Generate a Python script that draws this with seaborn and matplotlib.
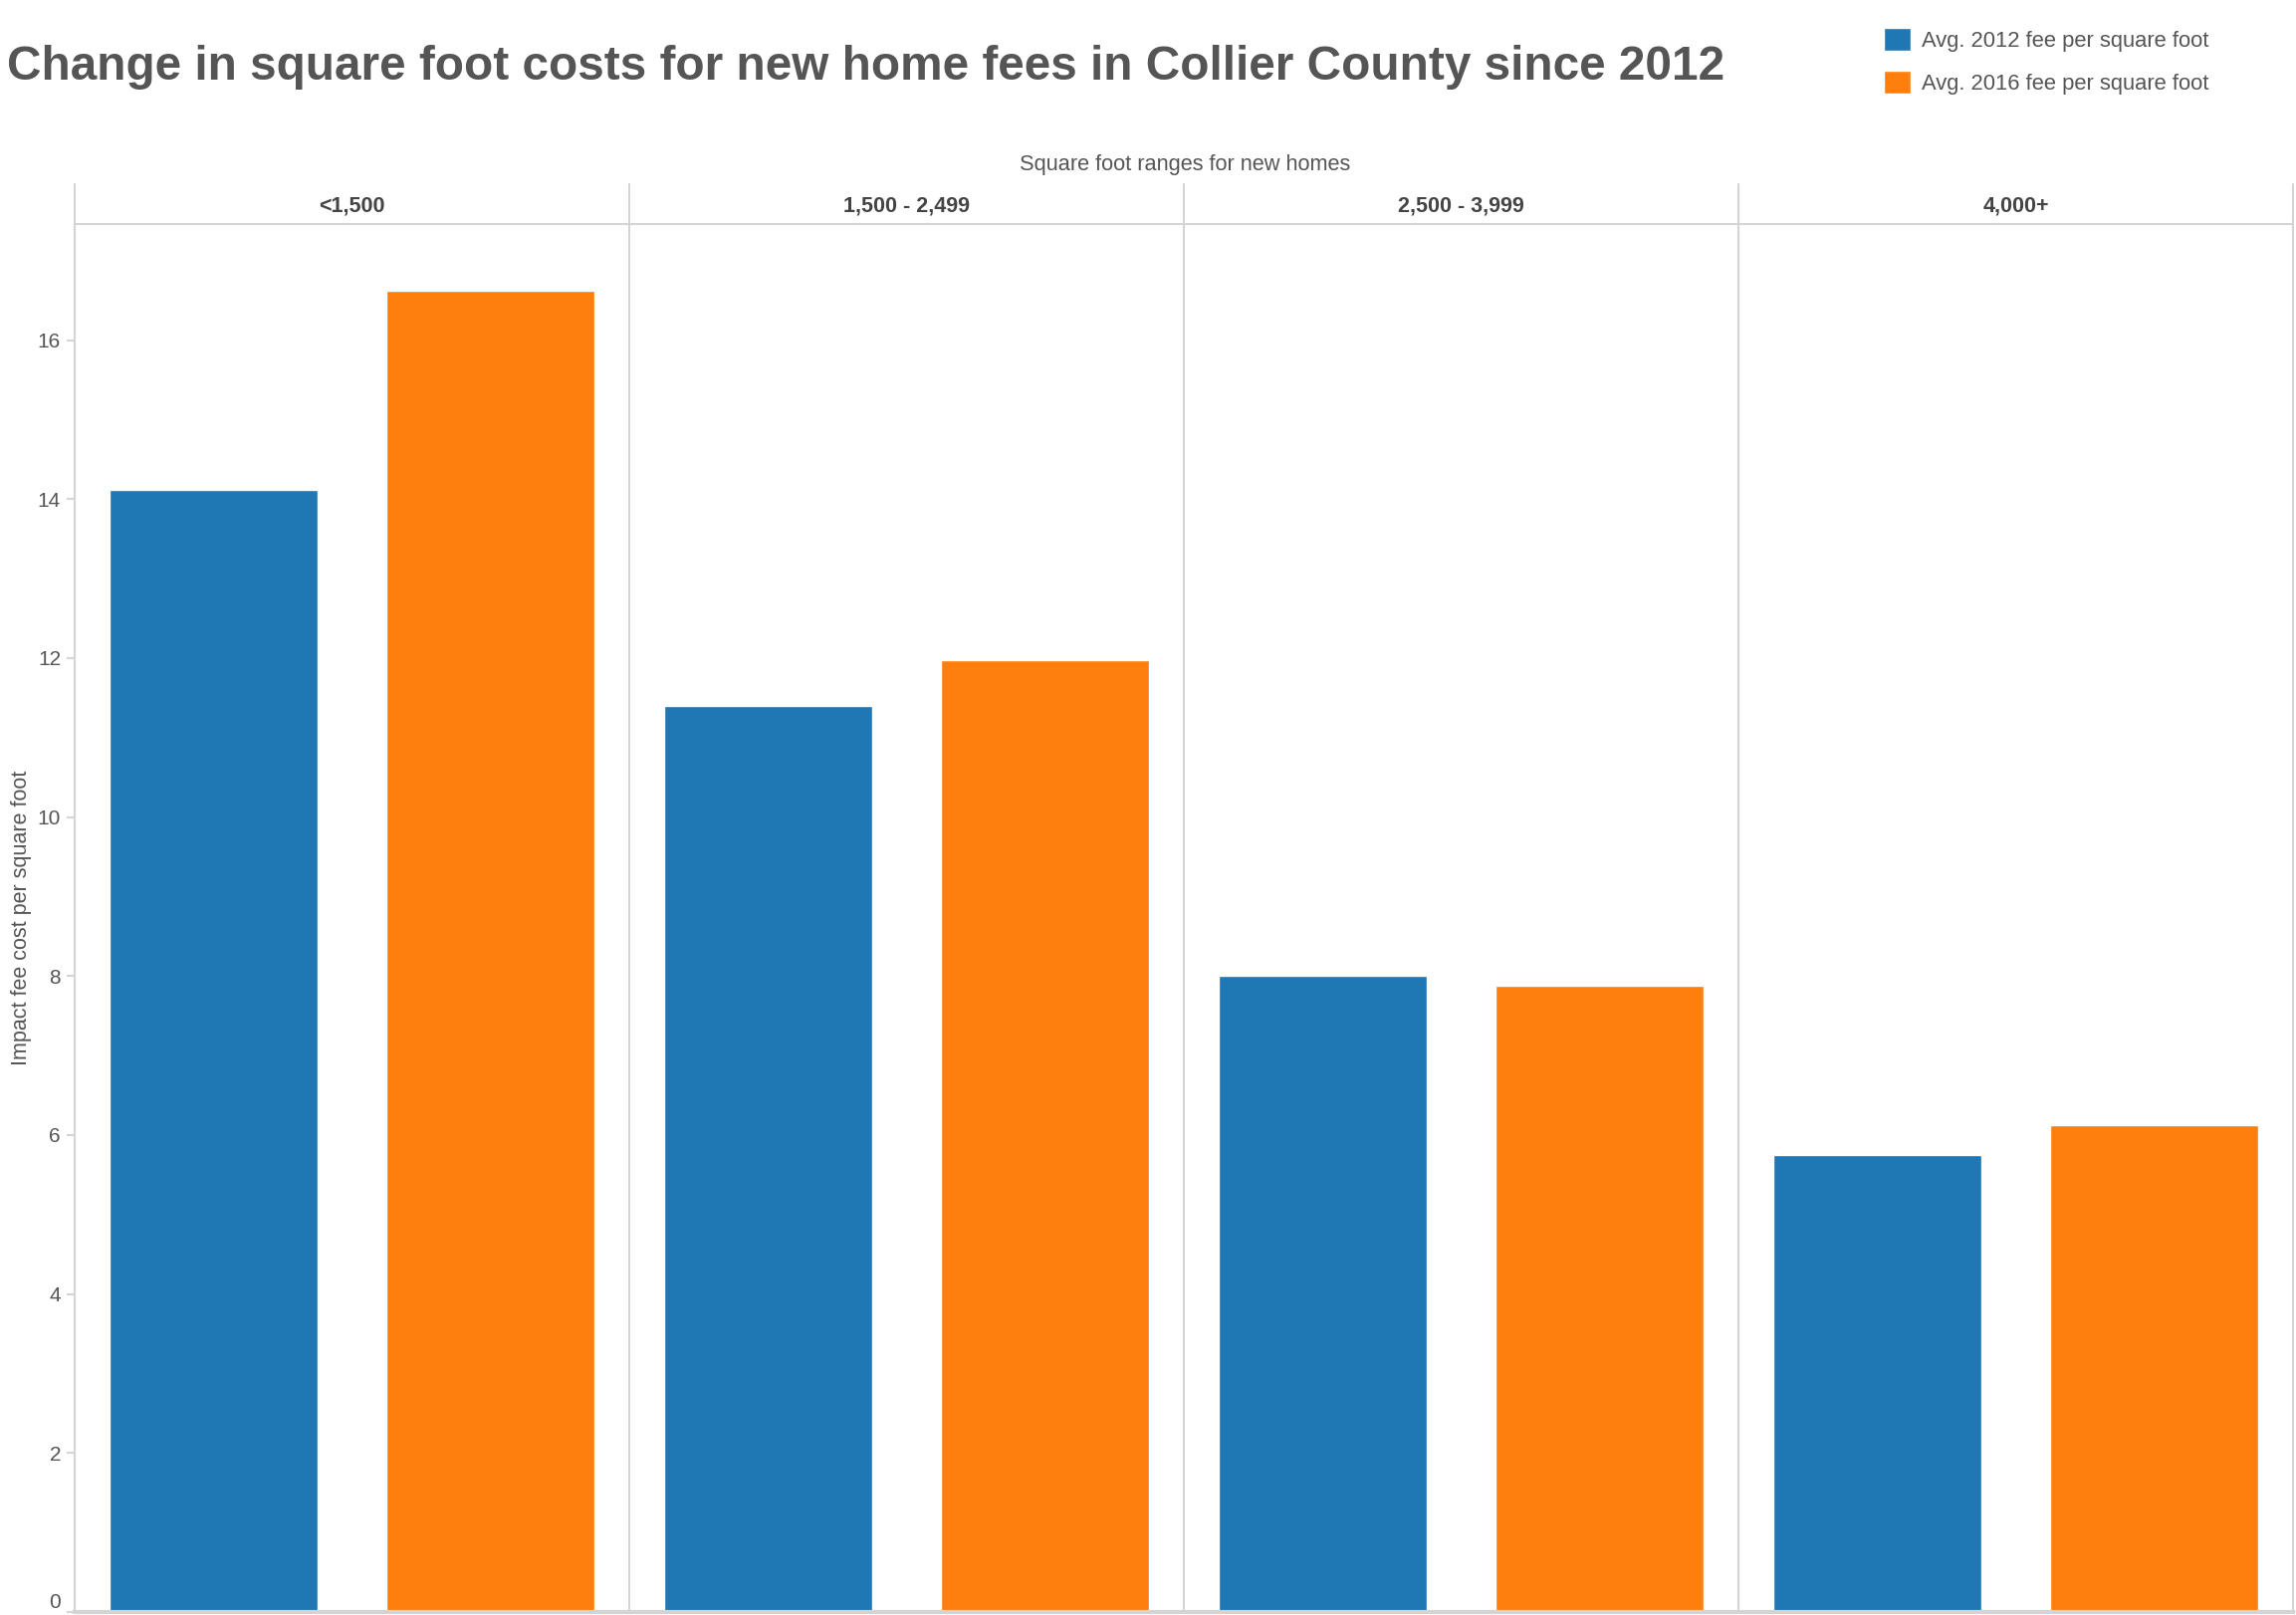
import pandas as pd
import matplotlib
matplotlib.use("Agg")
import matplotlib.pyplot as plt
import matplotlib.transforms as mtransforms
import seaborn as sns

ranges = ['<1,500', '1,500 - 2,499', '2,500 - 3,999', '4,000+']
fee_2012 = [14.11, 11.40, 8.00, 5.75]
fee_2016 = [16.62, 11.97, 7.88, 6.12]
series = ['Avg. 2012 fee per square foot', 'Avg. 2016 fee per square foot']
colors = ['#1f77b4', '#ff7f0e']

df = pd.DataFrame({
    'range': ranges * 2,
    'series': [series[0]] * 4 + [series[1]] * 4,
    'fee': fee_2012 + fee_2016,
})

sns.set_style('white')
plt.rcParams['font.family'] = ['Liberation Sans', 'DejaVu Sans']

grey = '#d4d4d4'
text_col = '#555555'

fig = plt.figure(figsize=(23.06, 16.22), dpi=100)
ax = fig.add_axes([75 / 2306, 3 / 1622, (2303 - 75) / 2306, (1619 - 225) / 1622])

sns.barplot(data=df, x='range', y='fee', hue='series', order=ranges,
            hue_order=series, palette=colors, width=1.0, gap=0.25,
            saturation=1, ax=ax)

ax.set_xlim(-0.5, 3.5)
ax.set_ylim(0, 17.46)
ax.set_yticks(range(0, 17, 2))
ax.set_xticks([])
ax.set_xlabel('')
ax.set_ylabel('Impact fee cost per square foot', fontsize=15.5, color=text_col, labelpad=4)
ax.tick_params(axis='y', length=6, width=1.5, color=grey, labelsize=15,
               labelcolor=text_col, pad=4, left=True)
ax.get_yticklabels()[0].set_va('bottom')

for side in ['top', 'right']:
    ax.spines[side].set_visible(False)
ax.spines['left'].set_color(grey)
ax.spines['left'].set_linewidth(1.5)
ax.spines['bottom'].set_color(grey)
ax.spines['bottom'].set_linewidth(3)

# facet header band
trans = mtransforms.blended_transform_factory(ax.transData, ax.transAxes)
header_top = 1 + 40 / 1394
for xv in [-0.5, 0.5, 1.5, 2.5, 3.5]:
    ax.plot([xv, xv], [0, header_top], color=grey, lw=1.5, transform=trans, clip_on=False)
ax.plot([-0.5, 3.5], [1, 1], color=grey, lw=1.5, transform=trans, clip_on=False)
for i, r in enumerate(ranges):
    ax.text(i, 1 + 18 / 1394, r, transform=trans, ha='center', va='center',
            fontsize=15.5, fontweight='bold', color='#444444')

fig.text(1190 / 2306, 1 - 166 / 1622, 'Square foot ranges for new homes',
         ha='center', va='center', fontsize=15.7, color=text_col)

fig.text(7 / 2306, 1 - 67 / 1622,
         'Change in square foot costs for new home fees in Collier County since 2012',
         ha='left', va='center', fontsize=34.4, fontweight='bold', color=text_col)

handles, labels = ax.get_legend_handles_labels()
ax.get_legend().remove()
fig.legend(handles, labels, loc='upper left', bbox_to_anchor=(1892 / 2306, 1 - 28 / 1622),
           frameon=False, fontsize=15.8, handlelength=1.25, handleheight=1.25,
           handletextpad=0.5, labelspacing=0.85, borderpad=0, borderaxespad=0,
           labelcolor=text_col)

fig.savefig('out.png', dpi=100)
